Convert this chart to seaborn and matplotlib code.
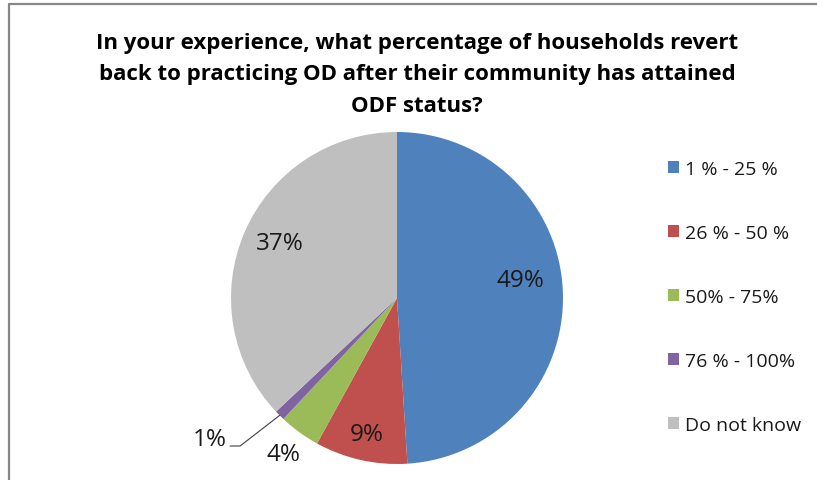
import numpy as np
import pandas as pd
import seaborn as sns
import matplotlib
matplotlib.use("Agg")
import matplotlib.pyplot as plt
from matplotlib.lines import Line2D

# Survey answers and their shares (%)
categories = ["1 % - 25 %", "26 % - 50 %", "50% - 75%", "76 % - 100%", "Do not know"]
shares = [49, 9, 4, 1, 37]
value_labels = ["49%", "9%", "4%", "1%", "37%"]
colors = ["#4F81BD", "#C0504D", "#9BBB59", "#8064A2", "#BFBFBF"]

title = ("In your experience, what percentage of households revert\n"
         "back to practicing OD after their community has attained\n"
         "ODF status?")

df = pd.DataFrame({"category": categories, "share": shares, "label": value_labels})

sns.set_theme(style="white")
plt.rcParams["font.family"] = ["Open Sans", "DejaVu Sans"]
palette = sns.color_palette(colors)

W, H = 817, 481
fig = plt.figure(figsize=(W / 100, H / 100), dpi=100)
fig.patch.set_facecolor("white")

# Pie axes: centre (397, 299) px from top-left, radius 166 px
cx, cy, rad = 397, 299, 166
ax = fig.add_axes([(cx - rad) / W, (H - cy - rad) / H, 2 * rad / W, 2 * rad / H])
wedges, _ = ax.pie(df["share"], colors=palette, startangle=90, counterclock=False,
                   radius=1.0, wedgeprops=dict(linewidth=0))
ax.set_xlim(-1, 1)
ax.set_ylim(-1, 1)
ax.axis("off")

# Value labels: radial distance and angular nudge for each wedge
label_r = [0.75, 0.84, 1.16, 1.41, 0.78]
label_nudge = [6.5, 0.0, 0.0, -8.0, -1.5]
for w, txt, r, nd in zip(wedges, df["label"], label_r, label_nudge):
    mid = np.deg2rad((w.theta1 + w.theta2) / 2)
    ang = mid + np.deg2rad(nd)
    x, y = r * np.cos(ang), r * np.sin(ang)
    ax.text(x, y, txt, ha="center", va="center", fontsize=17.5, color="#1a1a1a",
            clip_on=False)
    if txt == "1%":
        ex, ey = np.cos(mid), np.sin(mid)
        ax.plot([ex, x + 0.181, x + 0.121], [ey, y - 0.043, y - 0.043],
                color="#404040", lw=0.8, clip_on=False)

# Title
fig.text(417 / W, (H - 75) / H, title, ha="center", va="center", fontsize=16,
         fontweight="bold", color="#000000", linespacing=1.63)

# Legend
fig.legend(wedges, df["category"], loc="upper left",
           bbox_to_anchor=(668 / W, (H - 161) / H), frameon=False, fontsize=14,
           handlelength=0.55, handleheight=0.55, handletextpad=0.3,
           labelspacing=2.36, borderpad=0, borderaxespad=0, labelcolor="#1a1a1a")

# Chart-area border (top and left edges)
fig.add_artist(Line2D([8.5 / W, 1.0], [1 - 4.5 / H, 1 - 4.5 / H], color="#878787",
                      lw=1.6, transform=fig.transFigure))
fig.add_artist(Line2D([8.5 / W, 8.5 / W], [0, 1 - 4.5 / H], color="#878787",
                      lw=1.6, transform=fig.transFigure))

fig.savefig("out.png", dpi=100, facecolor="white")
